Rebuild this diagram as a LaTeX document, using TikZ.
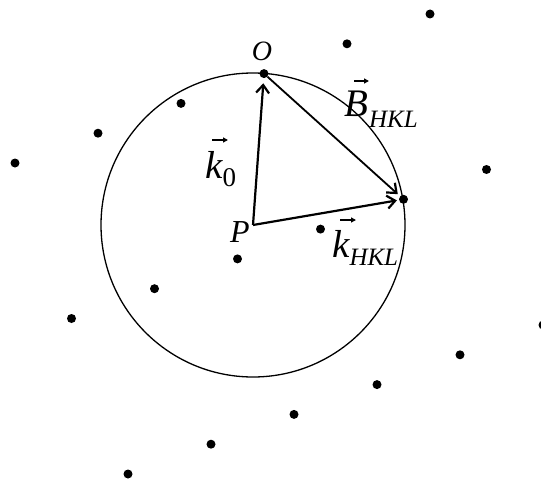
\documentclass[tikz,border=0pt]{standalone}
\usepackage{fontspec}
\setmainfont{Liberation Serif}
\usetikzlibrary{arrows.meta}
\begin{document}
\begin{tikzpicture}[x=1pt,y=-1pt,
  dot/.style={circle,fill=black,inner sep=0pt,minimum size=9pt},
  vecarrow/.style={line width=2.2pt,-{Straight Barb[length=8pt,width=13pt,line width=2.2pt]}},
  vecsign/.style={line width=1.2pt,-{Triangle[length=5pt,width=5pt]}},
  lbl/.style={inner sep=0pt,font=\itshape}]
\useasboundingbox (0,0) rectangle (541,487);
\foreach \i in {0,...,5}{
  \foreach \j in {0,1,2}{
    \node[dot] (d\i\j) at ({15+83*\i+56.5*\j},{163-29.8*\i+155.5*\j}) {};
  }
}
\coordinate (P) at (253,225);
\draw[line width=1.3pt] (P) circle[radius=152pt];
\draw[vecarrow,shorten >=5pt] (P) -- (d30);
\draw[vecarrow,line width=1.8pt,shorten >=3pt] (d30) -- (d41);
\draw[vecarrow,shorten >=2pt] (P) -- (d41);
\node[lbl,anchor=base,font=\itshape\fontsize{28}{28}\selectfont] (Olbl) at (262,60) {O};
\node[lbl,anchor=base,font=\itshape\fontsize{32}{32}\selectfont] (Plbl) at (240,242) {P};
\node[lbl,anchor=base west,font=\itshape\fontsize{39}{39}\selectfont] (k0lbl) at (205,178)
  {k\raisebox{-8pt}{\upshape\fontsize{27}{27}\selectfont 0}};
\node[lbl,anchor=base west,font=\itshape\fontsize{39}{39}\selectfont] (Blbl) at (344,117)
  {B\kern1pt\raisebox{-10pt}{\fontsize{25}{25}\selectfont HKL}};
\node[lbl,anchor=base west,font=\itshape\fontsize{39}{39}\selectfont] (klbl) at (332,257)
  {k\raisebox{-8pt}{\fontsize{25}{25}\selectfont HKL}};
\draw[vecsign] ([shift={(7,-38)}]k0lbl.base west) -- ++(16,0);
\draw[vecsign] ([shift={(10,-36)}]Blbl.base west) -- ++(15,0);
\draw[vecsign] ([shift={(8,-37)}]klbl.base west) -- ++(16,0);
\end{tikzpicture}
\end{document}
